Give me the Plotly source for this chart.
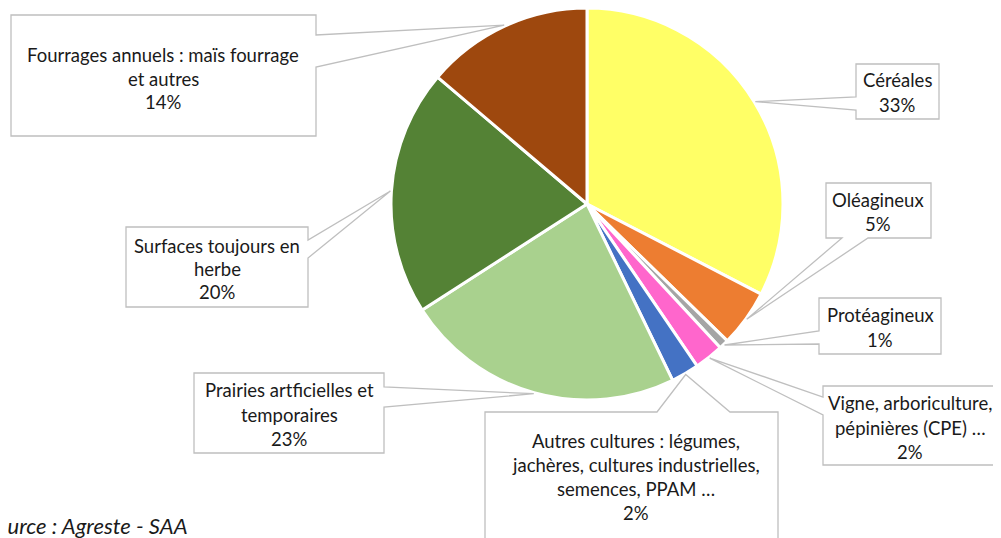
import math
import plotly.graph_objects as go

# ---- data ----
categories = [
    "Céréales",
    "Oléagineux",
    "Protéagineux",
    "Vigne, arboriculture, pépinières (CPE) …",
    "Autres cultures : légumes, jachères, cultures industrielles, semences, PPAM …",
    "Prairies artﬁcielles et temporaires",
    "Surfaces toujours en herbe",
    "Fourrages annuels : maïs fourrage et autres",
]
values = [32.6, 4.7, 0.8, 2.4, 2.3, 23.1, 20.3, 13.8]
colors = ["#FFFF66", "#ED7D31", "#A5A5A5", "#FF66CC", "#4472C4",
          "#A9D18E", "#548235", "#9E480E"]
label_lines = [
    ["Céréales"],
    ["Oléagineux"],
    ["Protéagineux"],
    ["Vigne, arboriculture,", "pépinières (CPE) …"],
    ["Autres cultures : légumes,", "jachères, cultures industrielles,", "semences, PPAM …"],
    ["Prairies artﬁcielles et", "temporaires"],
    ["Surfaces toujours en", "herbe"],
    ["Fourrages annuels : maïs fourrage", "et autres"],
]
source_text = "Source : Agreste - SAA"

# ---- layout (pixels, in window coordinates) ----
W, H = 1001, 538
OFF = 8  # page body margin
CX, CY, R = 587, 204, 196
R_ANCHOR = 197
FONT = "Lato, Carlito, Calibri, 'Open Sans', sans-serif"
TXT = "#1a1a1a"
BOX_LINE = "#BFBFBF"
FS = 18.5

# box: (x0, y0, x1, y1, side, base1, base2, text_cx, first_line_y, line_gap)
boxes = [
    (856, 64, 939, 119, "left", 97, 110, 897, 80, 24.5),
    (826, 183, 931, 238, "bottom", 842, 868, 878, 200, 24),
    (819, 298, 941, 354, "left", 331, 344, 880, 315, 25),
    (823, 386, 997, 465, "left", 397, 415, 910, 403, 24.5),
    (485, 412, 778, 570, "top", 657, 730, 636, 441, 24),
    (194, 373, 384, 453, "right", 387, 407, 289, 390, 24.5),
    (126, 227, 308, 307, "right", 240, 258, 217, 246, 23),
    (11, 15, 316, 136, "right", 35, 67, 163, 55, 23.5),
]

fig = go.Figure()
dom_y0 = max(0.0, 1 - (CY - OFF + R) / H)
dom_y1 = min(1.0, 1 - (CY - OFF - R) / H)
fig.add_trace(go.Pie(
    labels=categories, values=values, sort=False, direction="clockwise",
    rotation=0, textinfo="none", hole=0,
    marker=dict(colors=colors, line=dict(color="white", width=3)),
    domain=dict(x=[(CX - OFF - R) / W, (CX - OFF + R) / W], y=[dom_y0, dom_y1]),
    showlegend=False,
))

total = sum(values)
cum = 0.0
shapes = []
annotations = []
for i, v in enumerate(values):
    mid = (cum + v / 2) / total
    cum += v
    th = 2 * math.pi * mid
    ax = CX + R_ANCHOR * math.sin(th)
    ay = CY - R_ANCHOR * math.cos(th)
    x0, y0, x1, y1, side, b1, b2, tcx, ty, gap = boxes[i]
    p = f"M {x0},{y0} "
    if side == "top":
        p += f"L {b1},{y0} L {ax:.1f},{ay:.1f} L {b2},{y0} "
    p += f"L {x1},{y0} "
    if side == "right":
        p += f"L {x1},{b1} L {ax:.1f},{ay:.1f} L {x1},{b2} "
    p += f"L {x1},{y1} "
    if side == "bottom":
        p += f"L {b2},{y1} L {ax:.1f},{ay:.1f} L {b1},{y1} "
    p += f"L {x0},{y1} "
    if side == "left":
        p += f"L {x0},{b2} L {ax:.1f},{ay:.1f} L {x0},{b1} "
    p += "Z"
    shapes.append(dict(type="path", path=p, xref="x", yref="y",
                       line=dict(color=BOX_LINE, width=1.3), fillcolor="white", layer="above"))
    lines = label_lines[i] + [f"{round(v / total * 100)}%"]
    for k, t in enumerate(lines):
        annotations.append(dict(x=tcx, y=ty + k * gap, xref="x", yref="y", text=t,
                                showarrow=False, xanchor="center", yanchor="middle",
                                font=dict(family=FONT, size=FS, color=TXT)))

annotations.append(dict(x=190, y=525, xref="x", yref="y", text=f"<i>{source_text}</i>",
                        showarrow=False, xanchor="right", yanchor="middle",
                        font=dict(family=FONT, size=22, color=TXT)))

fig.update_layout(
    width=W, height=H, margin=dict(l=0, r=0, t=0, b=0),
    paper_bgcolor="white", plot_bgcolor="rgba(0,0,0,0)",
    xaxis=dict(range=[OFF, W + OFF], visible=False, fixedrange=True),
    yaxis=dict(range=[H + OFF, OFF], visible=False, fixedrange=True),
    shapes=shapes, annotations=annotations,
)
fig.write_html("out.html")
